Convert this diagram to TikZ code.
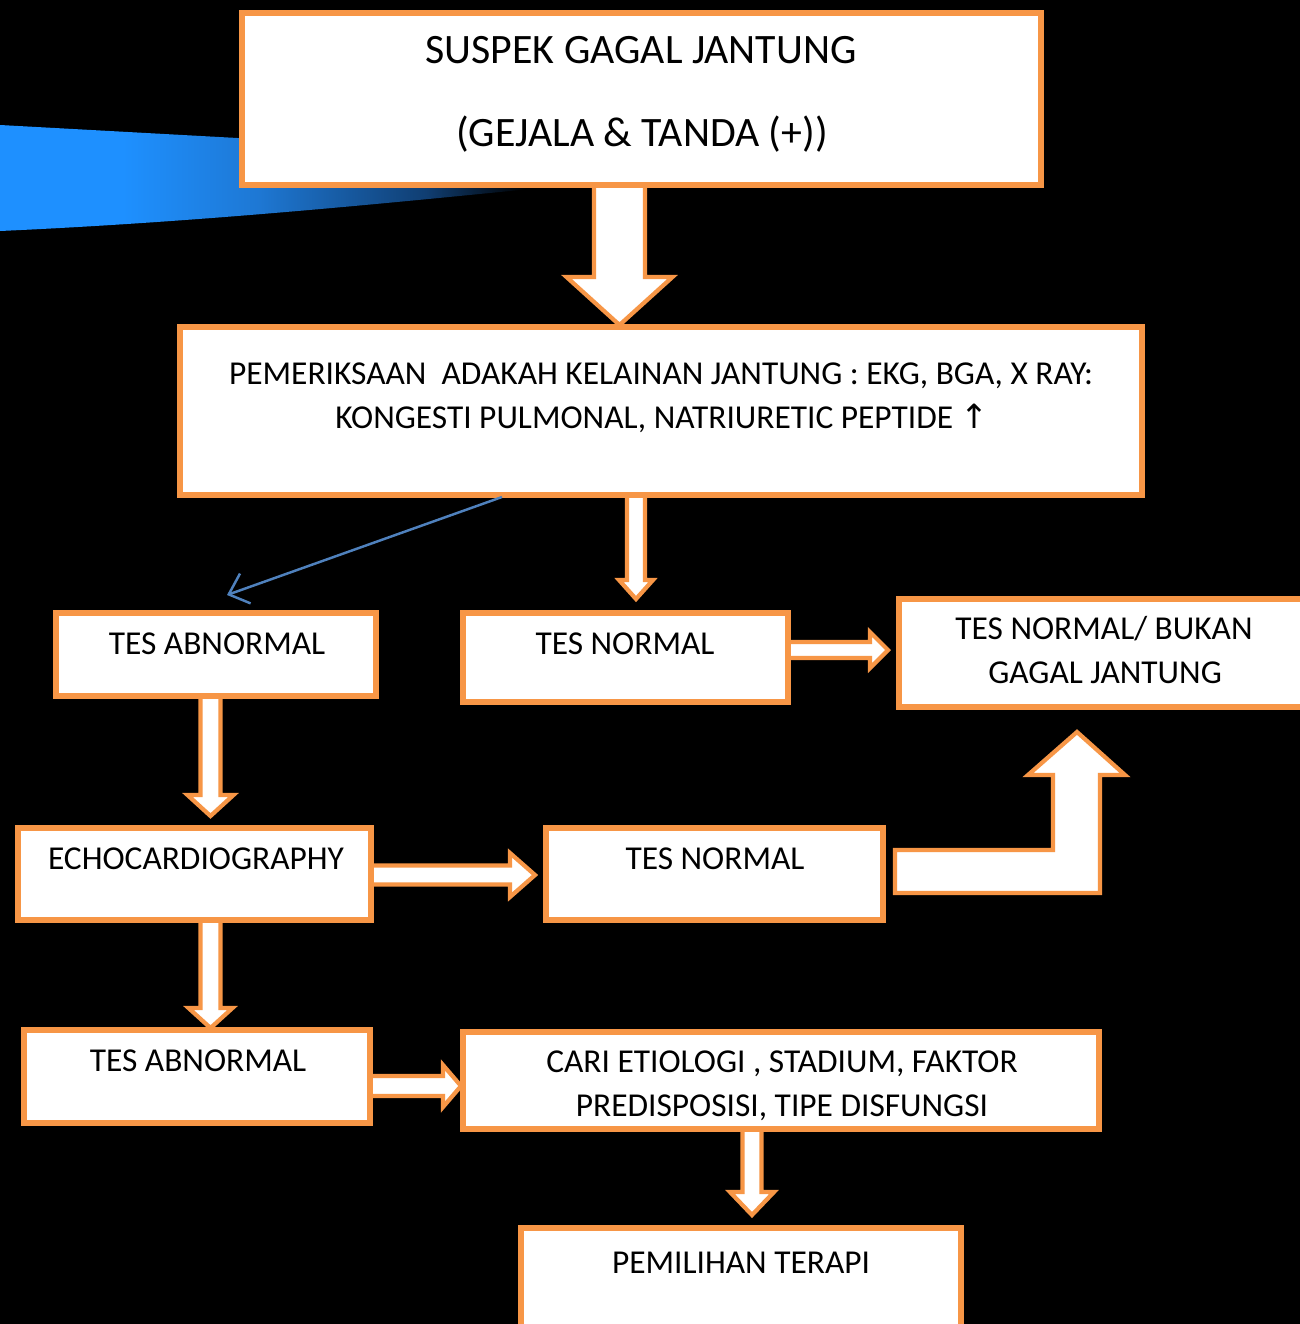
\documentclass[tikz,border=0pt]{standalone}
\usepackage{fontspec}
\setmainfont{Carlito}
\newfontfamily\symf{DejaVu Sans}
\usetikzlibrary{fit,arrows.meta}
\definecolor{orng}{RGB}{247,150,70}
\definecolor{bA}{RGB}{30,144,255}
\definecolor{bB}{RGB}{30,120,212}
\definecolor{bC}{RGB}{16,62,114}
\definecolor{lblue}{RGB}{79,129,189}
\pgfdeclarehorizontalshading{blueglow}{100bp}{color(0bp)=(bA); color(36bp)=(bA); color(48bp)=(bB); color(63bp)=(bC); color(72bp)=(black); color(100bp)=(black)}
\tikzset{
  box/.style={draw=orng, fill=white, line width=1.45pt, inner sep=0pt},
  blk/.style={draw=orng, fill=white, line width=1.2pt, line join=miter},
  txtL/.style={inner sep=0pt, text height=7.7pt, text depth=0pt, font=\fontsize{11.9}{14}\selectfont},
  txtS/.style={inner sep=0pt, text height=6.1pt, text depth=0pt, font=\fontsize{9.5}{11}\selectfont},
  thinblue/.style={draw=lblue, line width=0.7pt, -{Straight Barb[length=5pt,width=9pt,line width=0.7pt]}}
}
% down block arrow: x, ystart, yheadstart, ytip, shaft half width, head half width
\newcommand\dnblk[6]{\draw[blk] ({#1-#5},#2) -- ({#1-#5},#3) -- ({#1-#6},#3) -- (#1,#4) -- ({#1+#6},#3) -- ({#1+#5},#3) -- ({#1+#5},#2) -- cycle;}
% right block arrow: y, xstart, xheadstart, xtip, shaft half width, head half width
\newcommand\rtblk[6]{\draw[blk] (#2,{#1-#5}) -- (#3,{#1-#5}) -- (#3,{#1-#6}) -- (#4,#1) -- (#3,{#1+#6}) -- (#3,{#1+#5}) -- (#2,{#1+#5}) -- cycle;}
\begin{document}
\begin{tikzpicture}[x=0.01cm,y=-0.01cm]
\useasboundingbox (0,0) rectangle (1300,1324);
\clip (0,0) rectangle (1300,1324);
\fill[black] (0,0) rectangle (1300,1324);
% blue glow shape
\shade[shading=blueglow] (0,125) -- (420,148) -- (560,186) .. controls (380,204) and (200,222) .. (0,231) -- cycle;

% block arrows
\dnblk{619.5}{180}{277}{325}{25.5}{53}
\dnblk{636}{490}{580}{599}{9}{17}
\rtblk{650}{785}{870}{888}{8}{18}
\dnblk{210.5}{690}{795}{816}{10}{23}
\rtblk{875}{366}{510}{535}{9.5}{22}
\draw[blk] (895,850) -- (1053,850) -- (1053,775) -- (1028,775) -- (1077,732) -- (1125,775) -- (1100,775) -- (1100,893) -- (895,893) -- cycle;
\dnblk{210.5}{915}{1008}{1028}{10}{22}
\rtblk{1086}{365}{443}{461}{10}{21}
\dnblk{752}{1124}{1192}{1215}{9.5}{22}

% boxes
\node[box, fit={(242,13) (1041,185)}] (b1) {};
\node[box, fit={(180,327) (1142,495)}] (b2) {};
\node[box, fit={(56,613) (376,696)}] (b3) {};
\node[box, fit={(463,613) (788,702)}] (b4) {};
\node[box, fit={(899,599) (1330,707)}] (b5) {};
\node[box, fit={(18,828) (371,920)}] (b6) {};
\node[box, fit={(546,828) (883,920)}] (b7) {};
\node[box, fit={(24,1030) (370,1123)}] (b8) {};
\node[box, fit={(463,1032) (1099,1129)}] (b9) {};
\node[box, fit={(521,1228) (961,1350)}] (b10) {};

% texts
\node[txtL] (t1a) at (641,50) {SUSPEK GAGAL JANTUNG};
\node[txtL] (t1b) at (642,133) {(GEJALA \& TANDA (+))};
\node[txtS] (t2a) at (661,374) {PEMERIKSAAN\ \ ADAKAH KELAINAN JANTUNG : EKG, BGA, X RAY:};
\node[txtS] (t2b) at (662,418) {KONGESTI PULMONAL, NATRIURETIC PEPTIDE {\symf ↑}};
\node[txtS] (t3) at (217,644) {TES ABNORMAL};
\node[txtS] (t4) at (625,644) {TES NORMAL};
\node[txtS] (t5a) at (1104,629) {TES NORMAL/ BUKAN};
\node[txtS] (t5b) at (1105,673) {GAGAL JANTUNG};
\node[txtS] (t6) at (196,859) {ECHOCARDIOGRAPHY};
\node[txtS] (t7) at (715,859) {TES NORMAL};
\node[txtS] (t8) at (198,1061) {TES ABNORMAL};
\node[txtS] (t9a) at (782,1062) {CARI ETIOLOGI , STADIUM, FAKTOR};
\node[txtS] (t9b) at (782,1106) {PREDISPOSISI, TIPE DISFUNGSI};
\node[txtS] (t10) at (741,1263) {PEMILIHAN TERAPI};

% thin blue arrow
\coordinate (bs) at (502,497);
\coordinate (be) at (227,595);
\draw[thinblue] (bs) -- (be);
\end{tikzpicture}
\end{document}
